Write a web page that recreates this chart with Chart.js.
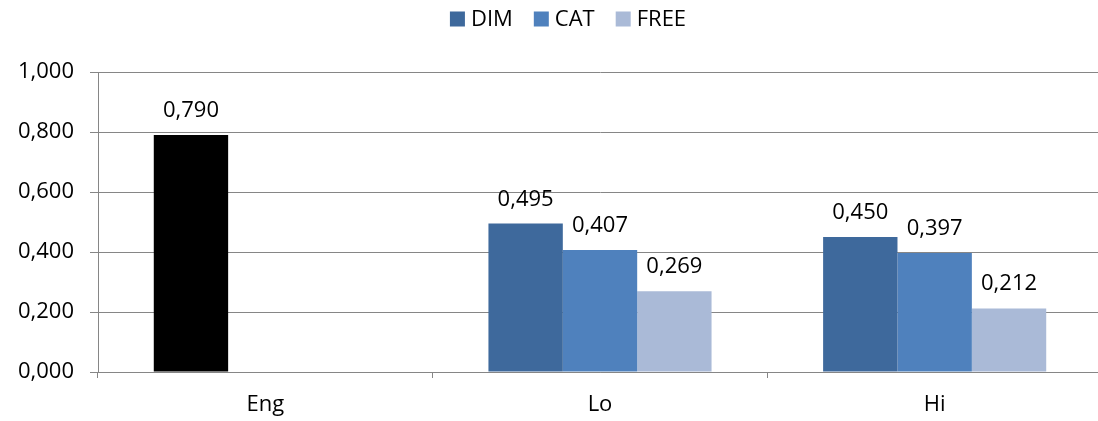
<!DOCTYPE html>
<html>
<head>
<meta charset="utf-8">
<script src="https://cdn.jsdelivr.net/npm/chart.js@4/dist/chart.umd.min.js"></script>
<style>
  html, body { margin: 0; padding: 0; background: #fff; overflow: hidden; }
  /* the plot runs a few pixels past the visible right edge */
  #wrap { width: 1098px; height: 421px; position: relative; overflow: hidden; }
  #c { display: block; }
</style>
</head>
<body>
<div id="wrap"><canvas id="c" width="1102" height="421"></canvas></div>
<script>
// Categories and series
const categories = ['Eng', 'Lo', 'Hi'];
const seriesNames = ['DIM', 'CAT', 'FREE'];
const dimValues  = [0.790, 0.495, 0.450];
const catValues  = [null, 0.407, 0.397];
const freeValues = [null, 0.269, 0.212];
const yTicks = [0, 0.2, 0.4, 0.6, 0.8, 1.0];

const DIM_COLOR  = '#3E699C';
const CAT_COLOR  = '#4F81BD';
const FREE_COLOR = '#AABAD7';
const ENG_COLOR  = '#000000';
const GRID = '#868686';
const FONT = '"Open Sans", "DejaVu Sans", sans-serif';
const FONT_SIZE = 22;

const fmt = v => v.toFixed(3).replace('.', ',');

// Value labels drawn above each bar
const valueLabels = {
  id: 'valueLabels',
  afterDatasetsDraw(chart) {
    const ctx = chart.ctx;
    ctx.save();
    ctx.font = FONT_SIZE + 'px ' + FONT;
    ctx.fillStyle = '#000';
    ctx.textAlign = 'center';
    ctx.textBaseline = 'alphabetic';
    chart.data.datasets.forEach((ds, i) => {
      const meta = chart.getDatasetMeta(i);
      meta.data.forEach((bar, j) => {
        const v = ds.data[j];
        if (v === null || v === undefined) return;
        ctx.fillText(fmt(v), bar.x, bar.y - 18);
      });
    });
    ctx.restore();
  }
};

// Compact legend row across the top, using each series' own colour
const topLegend = {
  id: 'topLegend',
  afterDraw(chart) {
    const ctx = chart.ctx;
    const box = 15, gapText = 6, gapItem = 21, cy = 19;
    ctx.save();
    ctx.font = FONT_SIZE + 'px ' + FONT;
    ctx.textBaseline = 'middle';
    ctx.textAlign = 'left';
    const items = chart.data.datasets.map(ds => ({ label: ds.label, color: ds.legendColor }));
    const widths = items.map(it => box + gapText + ctx.measureText(it.label).width);
    const total = widths.reduce((a, b) => a + b, 0) + gapItem * (items.length - 1);
    let x = 568 - total / 2;
    items.forEach((it, i) => {
      ctx.fillStyle = it.color;
      ctx.fillRect(x, cy - box / 2, box, box);
      ctx.fillStyle = '#000';
      ctx.fillText(it.label, x + box + gapText, cy + 1);
      x += widths[i] + gapItem;
    });
    ctx.restore();
  }
};

new Chart(document.getElementById('c'), {
  type: 'bar',
  data: {
    labels: categories,
    datasets: [
      {
        label: seriesNames[0],
        data: dimValues,
        legendColor: DIM_COLOR,
        backgroundColor: c => (c.type === 'data' && c.dataIndex === 0) ? ENG_COLOR : DIM_COLOR
      },
      { label: seriesNames[1], data: catValues,  legendColor: CAT_COLOR,  backgroundColor: CAT_COLOR },
      { label: seriesNames[2], data: freeValues, legendColor: FREE_COLOR, backgroundColor: FREE_COLOR }
    ]
  },
  options: {
    responsive: false,
    animation: false,
    devicePixelRatio: 1,
    categoryPercentage: 3 / 4.5,
    barPercentage: 1,
    layout: { padding: { left: 0, right: 0, top: 0, bottom: 0 } },
    plugins: {
      legend: { display: false },
      // empty title reserves the band that holds the legend row
      title: {
        display: true,
        text: '',
        font: { size: 10, lineHeight: 1.2 },
        padding: { top: 0, bottom: 60 }
      },
      tooltip: { enabled: false }
    },
    scales: {
      x: {
        offset: true,
        grid: {
          offset: true,
          drawOnChartArea: false,
          drawTicks: true,
          tickLength: 6,
          color: GRID
        },
        border: { color: GRID, width: 1 },
        ticks: {
          font: { family: FONT, size: FONT_SIZE },
          color: '#000',
          padding: 14
        },
        afterFit: s => { s.height = 49; }
      },
      y: {
        min: 0,
        max: 1,
        afterBuildTicks: s => { s.ticks = yTicks.map(v => ({ value: v })); },
        grid: { color: GRID, tickLength: 8, lineWidth: 1 },
        border: { color: GRID, width: 1 },
        ticks: {
          font: { family: FONT, size: FONT_SIZE },
          color: '#000',
          padding: 16,
          callback: v => fmt(v)
        },
        afterFit: s => { s.width = 98; }
      }
    }
  },
  plugins: [valueLabels, topLegend]
});
</script>
</body>
</html>
